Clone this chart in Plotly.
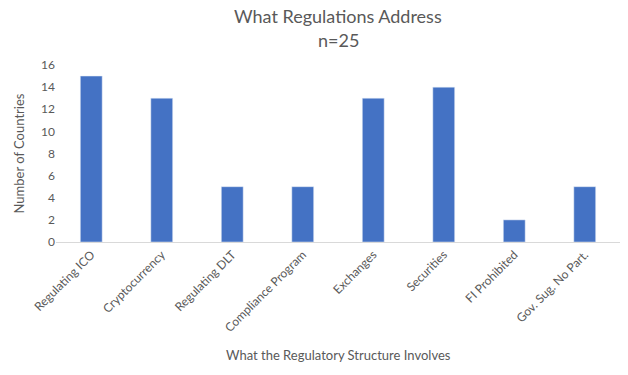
import plotly.graph_objects as go

categories = ["Regulating ICO", "Cryptocurrency", "Regulating DLT", "Compliance Program",
              "Exchanges", "Securities", "FI Prohibited", "Gov. Sug. No Part."]
counts = [15, 13, 5, 5, 13, 14, 2, 5]
y_ticks = [0, 2, 4, 6, 8, 10, 12, 14, 16]
title_lines = ["What Regulations Address", "n=25"]

FONT = "Lato, Carlito, 'Open Sans', sans-serif"
GRAY = "#595959"
PLOT_H = 375 - 65 - 133  # plot area height in px
BASE_Y = 242


def py(pixel_y):
    return (BASE_Y - pixel_y) / PLOT_H


fig = go.Figure(go.Bar(x=categories, y=counts, marker_color="#4472C4", width=0.31))

fig.update_layout(
    width=628, height=375,
    margin=dict(l=56, r=8, t=65, b=133),
    plot_bgcolor="white", paper_bgcolor="white",
    font=dict(family=FONT, color=GRAY, size=12),
    showlegend=False,
    xaxis=dict(tickangle=-45, showline=True, linecolor="#d9d9d9", linewidth=1,
               ticks="", showgrid=False, tickfont=dict(size=12, color=GRAY)),
    yaxis=dict(range=[0, 16], tickvals=y_ticks, showgrid=False, zeroline=False,
               showline=False, ticks="", tickfont=dict(size=12, color=GRAY)),
    annotations=[
        dict(text=title_lines[0], xref="paper", yref="paper", x=0.5, y=py(16),
             xanchor="center", yanchor="middle", showarrow=False,
             font=dict(size=18, color=GRAY, family=FONT)),
        dict(text=title_lines[1], xref="paper", yref="paper", x=0.5, y=py(40),
             xanchor="center", yanchor="middle", showarrow=False,
             font=dict(size=18, color=GRAY, family=FONT)),
        dict(text="What the Regulatory Structure Involves", xref="paper", yref="paper",
             x=0.5, y=py(355), xanchor="center", yanchor="middle",
             showarrow=False, font=dict(size=13, color=GRAY, family=FONT)),
        dict(text="Number of Countries", xref="paper", yref="paper",
             x=-(56-18)/564.0, y=0.5, xanchor="center", yanchor="middle", textangle=-90,
             showarrow=False, font=dict(size=13, color=GRAY, family=FONT)),
    ],
)

fig.write_html("out.html")
